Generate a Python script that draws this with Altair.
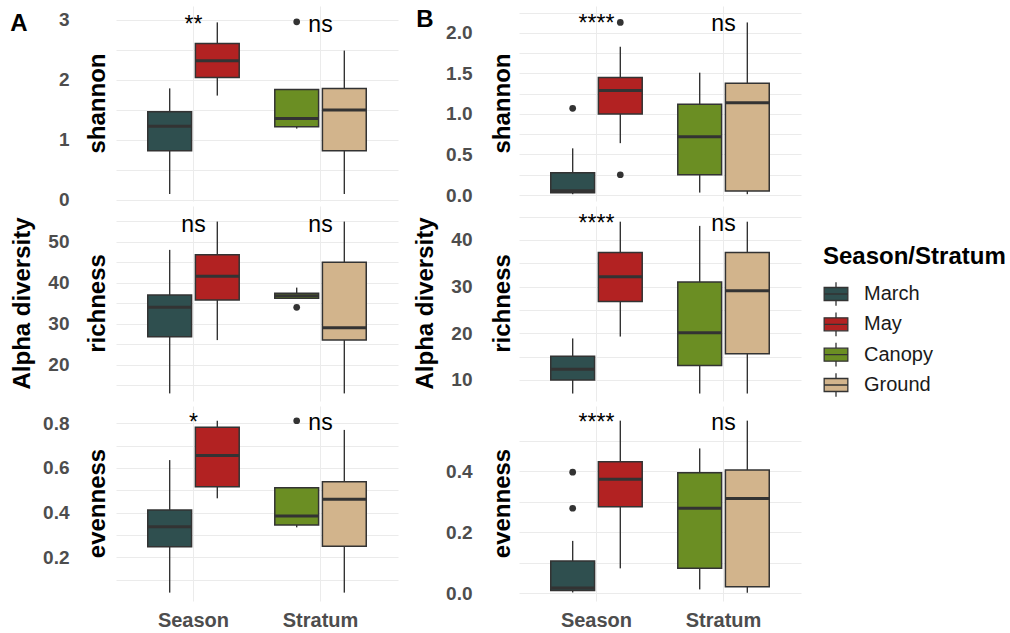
import altair as alt
import pandas as pd

# ---------------- data ----------------
groups = ['March', 'May', 'Canopy', 'Ground']
colors = ['#2F4F4F', '#B22222', '#6B8E23', '#D2B48C']
box_cat = ['Season', 'Season', 'Stratum', 'Stratum']
box_slot = ['L', 'R', 'L', 'R']
x_cats = ['Season', 'Stratum']

# Panel A - shannon
a_sh_lower = [0.10, 1.74, 1.19, 0.10]
a_sh_q1 = [0.82, 2.04, 1.22, 0.82]
a_sh_med = [1.23, 2.32, 1.36, 1.50]
a_sh_q3 = [1.47, 2.61, 1.84, 1.86]
a_sh_upper = [1.86, 2.96, 1.84, 2.49]
a_sh_out_group = ['Canopy']
a_sh_out_val = [2.97]
a_sh_sig = ['**', 'ns']
a_sh_sig_y = 2.80

# Panel A - richness
a_ri_lower = [13.0, 26.0, 36.2, 13.0]
a_ri_q1 = [26.8, 35.8, 36.2, 26.0]
a_ri_med = [34.0, 41.6, 36.8, 29.0]
a_ri_q3 = [37.0, 46.8, 37.4, 45.0]
a_ri_upper = [48.0, 54.9, 38.8, 54.9]
a_ri_out_group = ['Canopy']
a_ri_out_val = [34.0]
a_ri_sig = ['ns', 'ns']
a_ri_sig_y = 52.4

# Panel A - evenness
a_ev_lower = [0.042, 0.464, 0.334, 0.042]
a_ev_q1 = [0.247, 0.516, 0.345, 0.250]
a_ev_med = [0.337, 0.655, 0.385, 0.460]
a_ev_q3 = [0.412, 0.782, 0.511, 0.538]
a_ev_upper = [0.635, 0.811, 0.511, 0.770]
a_ev_out_group = ['Canopy']
a_ev_out_val = [0.811]
a_ev_sig = ['*', 'ns']
a_ev_sig_y = 0.77

# Panel B - shannon
b_sh_lower = [0.01, 0.64, 0.03, 0.01]
b_sh_q1 = [0.028, 1.00, 0.25, 0.05]
b_sh_med = [0.053, 1.29, 0.72, 1.14]
b_sh_q3 = [0.275, 1.45, 1.12, 1.38]
b_sh_upper = [0.576, 1.83, 1.51, 2.13]
b_sh_out_group = ['March', 'May', 'May']
b_sh_out_val = [1.07, 2.13, 0.25]
b_sh_sig = ['****', 'ns']
b_sh_sig_y = 2.02

# Panel B - richness
b_ri_lower = [7.1, 19.3, 7.1, 7.1]
b_ri_q1 = [10.0, 26.8, 13.1, 15.6]
b_ri_med = [12.3, 32.1, 20.1, 29.1]
b_ri_q3 = [15.1, 37.3, 31.0, 37.3]
b_ri_upper = [18.9, 43.9, 43.0, 43.9]
b_ri_out_group = []
b_ri_out_val = []
b_ri_sig = ['****', 'ns']
b_ri_sig_y = 41.8

# Panel B - evenness
b_ev_lower = [0.003, 0.082, 0.013, 0.002]
b_ev_q1 = [0.009, 0.284, 0.082, 0.022]
b_ev_med = [0.018, 0.374, 0.279, 0.311]
b_ev_q3 = [0.106, 0.431, 0.395, 0.404]
b_ev_upper = [0.172, 0.566, 0.475, 0.566]
b_ev_out_group = ['March', 'March']
b_ev_out_val = [0.397, 0.279]
b_ev_sig = ['****', 'ns']
b_ev_sig_y = 0.535

# axis ticks (grid values incl. minor) and labelled values
a_sh_grid = [0, 0.5, 1, 1.5, 2, 2.5, 3]
a_sh_labels = [0, 1, 2, 3]
a_ri_grid = [15, 20, 25, 30, 35, 40, 45, 50, 55]
a_ri_labels = [20, 30, 40, 50]
a_ev_grid = [0.1, 0.2, 0.3, 0.4, 0.5, 0.6, 0.7, 0.8]
a_ev_labels = [0.2, 0.4, 0.6, 0.8]
b_sh_grid = [0, 0.25, 0.5, 0.75, 1, 1.25, 1.5, 1.75, 2, 2.25]
b_sh_labels = [0, 0.5, 1, 1.5, 2]
b_ri_grid = [10, 15, 20, 25, 30, 35, 40, 45]
b_ri_labels = [10, 20, 30, 40]
b_ev_grid = [0, 0.1, 0.2, 0.3, 0.4, 0.5]
b_ev_labels = [0, 0.2, 0.4]

# y scale domains
a_sh_dom = [-0.017, 3.233]
a_ri_dom = [11.15, 58.7]
a_ev_dom = [0.0045, 0.877]
b_sh_dom = [-0.074, 2.333]
b_ri_dom = [5.5, 47.26]
b_ev_dom = [-0.025, 0.614]

W = 282
H = 195
LINE = '#333333'
FONT = 'Liberation Sans'

color_scale = alt.Scale(domain=groups, range=colors)
x_scale = alt.Scale(domain=x_cats, paddingInner=0.25, paddingOuter=0.235)
xoff_scale = alt.Scale(domain=['L', 'R'], paddingInner=0.08, paddingOuter=0.04)
group_cat = dict(zip(groups, box_cat))
group_slot = dict(zip(groups, box_slot))


def text_layer(txt, x, y, size=24, weight='bold', angle=0, align='center'):
    return alt.Chart(pd.DataFrame({'t': [txt]})).mark_text(
        fontSize=size, fontWeight=weight, angle=angle, align=align,
        baseline='middle', color='black', font=FONT
    ).encode(x=alt.value(x), y=alt.value(y), text='t:N')


def make_row(lower, q1, med, q3, upper, out_g, out_v, sig, sig_y, dom,
             grid_vals, label_vals, fmt, title, title_x, show_x, extras):
    df = pd.DataFrame({'group': groups, 'cat': box_cat, 'slot': box_slot,
                       'lower': lower, 'q1': q1, 'median': med,
                       'q3': q3, 'upper': upper})
    odf = pd.DataFrame({'group': out_g, 'value': out_v})
    odf['cat'] = [group_cat[g] for g in out_g]
    odf['slot'] = [group_slot[g] for g in out_g]
    sdf = pd.DataFrame({'cat': x_cats, 'label': sig, 'y': [sig_y, sig_y]})

    y_scale = alt.Scale(domain=dom, zero=False, nice=False)
    y_axis = alt.Axis(
        values=grid_vals,
        labelExpr=f"indexof({label_vals}, datum.value) >= 0 ? format(datum.value, '{fmt}') : ''",
        labelFontSize=19, labelFontWeight='bold', labelColor='#4D4D4D',
        labelPadding=47, ticks=False, domain=False, grid=True,
        gridColor='#EBEBEB', gridWidth=1, title=None)
    x_axis = alt.Axis(labels=show_x, ticks=False, domain=False, grid=True,
                      gridColor='#EBEBEB', gridWidth=1, bandPosition=0.5,
                      labelFontSize=20, labelFontWeight='bold',
                      labelColor='#4D4D4D', labelPadding=9, labelAngle=0,
                      title=None)
    X = alt.X('cat:N', scale=x_scale, axis=x_axis, title=None)
    XO = alt.XOffset('slot:N', scale=xoff_scale)

    def Y(f):
        return alt.Y(f, scale=y_scale, axis=y_axis, title=None)

    base = alt.Chart(df)
    w1 = base.mark_rule(color=LINE, strokeWidth=1.4).encode(
        x=X, xOffset=XO, y=Y('lower:Q'), y2='q1:Q')
    w2 = base.mark_rule(color=LINE, strokeWidth=1.4).encode(
        x=X, xOffset=XO, y=Y('q3:Q'), y2='upper:Q')
    box = base.mark_bar(stroke=LINE, strokeWidth=1.5).encode(
        x=X, xOffset=XO, y=Y('q1:Q'), y2='q3:Q',
        fill=alt.Fill('group:N', scale=color_scale, legend=None))
    med_l = base.mark_tick(color=LINE, thickness=3, size=44, opacity=1).encode(
        x=X, xOffset=XO, y=Y('median:Q'))
    layers = [w1, w2, box, med_l]
    if len(out_g):
        layers.append(alt.Chart(odf).mark_circle(color=LINE, size=45, opacity=1).encode(
            x=X, xOffset=XO, y=Y('value:Q')))
    layers.append(alt.Chart(sdf).mark_text(
        fontSize=23, baseline='alphabetic', color='black', font=FONT).encode(
        x=X, y=Y('y:Q'), text='label:N'))
    layers.append(text_layer(title, title_x, H / 2, angle=270))
    layers.extend(extras)
    return alt.layer(*layers).properties(width=W, height=H)


rowA1 = make_row(a_sh_lower, a_sh_q1, a_sh_med, a_sh_q3, a_sh_upper,
                 a_sh_out_group, a_sh_out_val, a_sh_sig, a_sh_sig_y, a_sh_dom,
                 a_sh_grid, a_sh_labels, 'd', 'shannon', -18, False,
                 [text_layer('A', -97, 18)])
rowA2 = make_row(a_ri_lower, a_ri_q1, a_ri_med, a_ri_q3, a_ri_upper,
                 a_ri_out_group, a_ri_out_val, a_ri_sig, a_ri_sig_y, a_ri_dom,
                 a_ri_grid, a_ri_labels, 'd', 'richness', -18, False,
                 [text_layer('Alpha diversity', -93, H / 2, angle=270)])
rowA3 = make_row(a_ev_lower, a_ev_q1, a_ev_med, a_ev_q3, a_ev_upper,
                 a_ev_out_group, a_ev_out_val, a_ev_sig, a_ev_sig_y, a_ev_dom,
                 a_ev_grid, a_ev_labels, '.1f', 'evenness', -18, True, [])

rowB1 = make_row(b_sh_lower, b_sh_q1, b_sh_med, b_sh_q3, b_sh_upper,
                 b_sh_out_group, b_sh_out_val, b_sh_sig, b_sh_sig_y, b_sh_dom,
                 b_sh_grid, b_sh_labels, '.1f', 'shannon', -16, False,
                 [text_layer('B', -94, 14)])
rowB2 = make_row(b_ri_lower, b_ri_q1, b_ri_med, b_ri_q3, b_ri_upper,
                 b_ri_out_group, b_ri_out_val, b_ri_sig, b_ri_sig_y, b_ri_dom,
                 b_ri_grid, b_ri_labels, 'd', 'richness', -16, False,
                 [text_layer('Alpha diversity', -93, H / 2, angle=270)])
rowB3 = make_row(b_ev_lower, b_ev_q1, b_ev_med, b_ev_q3, b_ev_upper,
                 b_ev_out_group, b_ev_out_val, b_ev_sig, b_ev_sig_y, b_ev_dom,
                 b_ev_grid, b_ev_labels, '.1f', 'evenness', -16, True, [])

colA = alt.vconcat(rowA1, rowA2, rowA3, spacing=5, bounds='flush')
colB = alt.vconcat(rowB1, rowB2, rowB3, spacing=5, bounds='flush')

# ---------------- legend ----------------
legend_title = 'Season/Stratum'
box_glyph = 'M-1,-0.55H1V0.55H-1Z M0,-1V-0.55 M0,0.55V1 M-1,0H1'
ldf = pd.DataFrame({'group': groups})
ly = alt.Y('group:N', sort=groups,
           scale=alt.Scale(type='point', domain=groups, range=[288, 379], padding=0),
           axis=None)
leg_sym = alt.Chart(ldf).mark_point(shape=box_glyph, filled=True, size=560,
                                    stroke=LINE, strokeWidth=1.3, opacity=1).encode(
    x=alt.value(19), y=ly,
    fill=alt.Fill('group:N', scale=color_scale, legend=None))
leg_txt = alt.Chart(ldf).mark_text(align='left', baseline='middle', fontSize=20,
                                   color='#1A1A1A', font=FONT).encode(
    x=alt.value(47), y=ly, text='group:N')
leg_ttl = text_layer(legend_title, 6, 251, size=24, align='left')
legend = alt.layer(leg_sym, leg_txt, leg_ttl).properties(width=190, height=590)

chart = alt.hconcat(colA, colB, legend, spacing=16).properties(
    padding={'left': 10, 'top': 6, 'right': 0, 'bottom': 0}
).configure(font=FONT).configure_view(stroke=None)

chart.save('out.html', embed_options={'renderer': 'svg', 'actions': False})
